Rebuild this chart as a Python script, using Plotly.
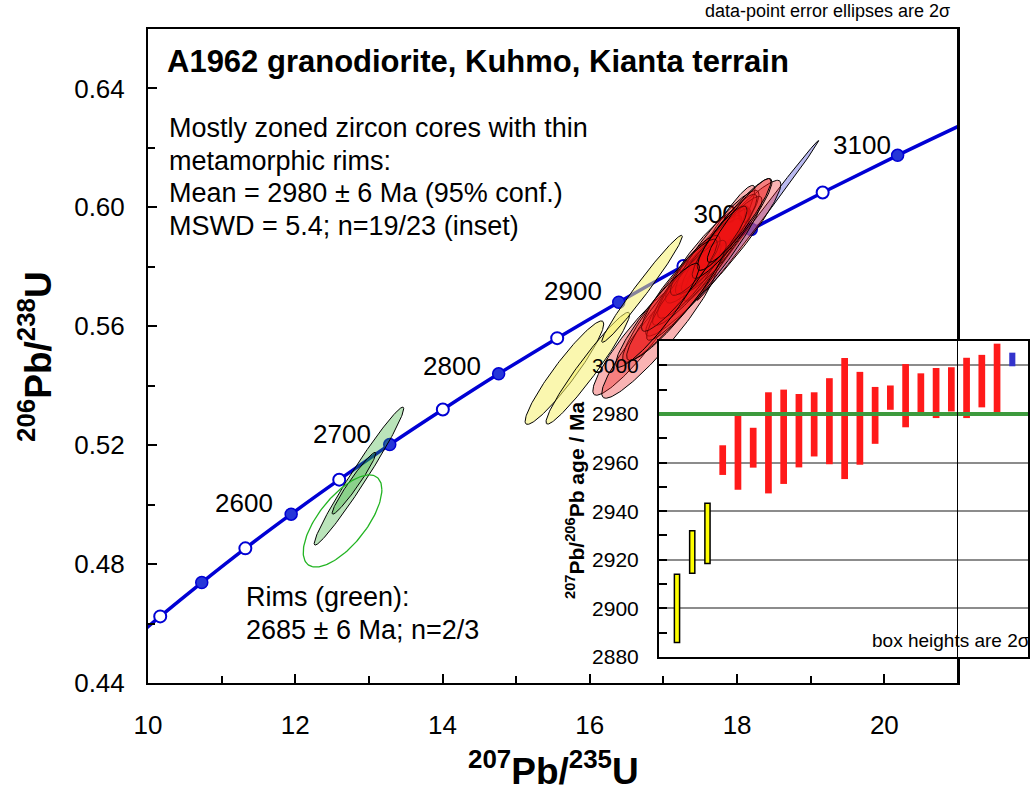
import numpy as np
import plotly.graph_objects as go

# ---------------- data ----------------
# Concordia reference points: age (Ma), 207Pb/235U, 206Pb/238U
conc_age = [2400, 2450, 2500, 2550, 2600, 2650, 2700, 2750, 2800, 2850,
            2900, 2950, 3000, 3050, 3100, 3150]
conc_x = [9.629, 10.166, 10.730, 11.322, 11.944, 12.597, 13.283, 14.004,
          14.762, 15.557, 16.393, 17.271, 18.193, 19.162, 20.180, 21.249]
conc_y = [0.4511, 0.4624, 0.4738, 0.4853, 0.4968, 0.5084, 0.5202, 0.5320,
          0.5440, 0.5560, 0.5681, 0.5803, 0.5926, 0.6050, 0.6175, 0.6301]
label_ages = [2600, 2700, 2800, 2900, 3100]
hidden_label_age = 3000

# Rim analyses (green): centre, 2-sigma half-extents, error correlation
rim_x = [12.865, 12.797, 12.642]
rim_y = [0.5096, 0.5072, 0.4945]
rim_sx = [0.608, 0.297, 0.534]
rim_sy = [0.0232, 0.0104, 0.0155]
rim_rho = [0.978, 0.965, 0.68]
rim_used = [True, True, False]

# Excluded cores (yellow)
yel_x = [15.655, 15.973, 16.709]
yel_y = [0.5444, 0.5459, 0.5726]
yel_sx = [0.534, 0.568, 0.547]
yel_sy = [0.0174, 0.0188, 0.0180]
yel_rho = [0.940, 0.962, 0.980]

# Excluded high analysis (blue)
blu_x = [18.284]
blu_y = [0.5956]
blu_sx = [0.824]
blu_sy = [0.0269]
blu_rho = [0.998]

# Mean-age cores (red)
red_x = [16.649, 16.946, 17.676, 17.757, 17.257, 17.459, 17.568, 17.716, 17.351, 17.730,
         17.554, 17.865, 17.176, 17.432, 17.932, 17.216, 17.797, 16.919, 18.027]
red_y = [0.5553, 0.5587, 0.5829, 0.5879, 0.5721, 0.5788, 0.5839, 0.5855, 0.5755, 0.5882,
         0.5795, 0.5916, 0.5687, 0.5805, 0.5929, 0.5738, 0.5896, 0.5637, 0.5956]
red_sx = [0.608, 0.784, 0.919, 0.486, 0.811, 0.608, 0.541, 0.473, 0.432, 0.568,
          0.784, 0.405, 0.676, 0.338, 0.541, 0.514, 0.338, 0.568, 0.432]
red_sy = [0.0185, 0.0229, 0.0262, 0.0195, 0.0242, 0.0185, 0.0161, 0.0141, 0.0128, 0.0175,
          0.0242, 0.0128, 0.0202, 0.0101, 0.0168, 0.0155, 0.0108, 0.0175, 0.0141]
red_rho = [0.920, 0.930, 0.950, 0.930, 0.940, 0.920, 0.900, 0.900, 0.880, 0.920,
           0.950, 0.900, 0.930, 0.850, 0.930, 0.920, 0.880, 0.930, 0.930]

# Inset: 207Pb/206Pb ages and 2-sigma errors, ranked
inset_age = [2900.0, 2923.2, 2930.9, 2961.0, 2964.6, 2966.1, 2968.1, 2970.6, 2973.1, 2975.7,
             2977.0, 2978.1, 2978.2, 2979.4, 2986.7, 2987.5, 2988.3, 2988.6, 2990.1, 2990.7,
             2993.5, 2994.4, 3002.4]
inset_err = [14.0, 8.7, 12.4, 6.1, 15.8, 8.2, 20.8, 19.4, 15.1, 13.2,
             17.7, 24.9, 19.1, 11.7, 5.0, 13.0, 8.4, 10.3, 9.1, 12.4,
             10.8, 14.5, 2.8]
inset_group = ["yellow"] * 3 + ["red"] * 19 + ["blue"]
mean_age = 2980

# ---------------- helpers ----------------
W, H = 1032, 791
FONT = "Liberation Sans, Arial, Helvetica, sans-serif"
BLUE = "#0000d4"


def ellipse(cx, cy, sx, sy, rho, n=160):
    t = np.linspace(0, 2 * np.pi, n)
    x = cx + sx * np.cos(t)
    y = cy + sy * (rho * np.cos(t) + np.sqrt(1 - rho ** 2) * np.sin(t))
    return x, y


def px(v):
    return v / W


def py(v):
    return 1 - v / H


fig = go.Figure()

# concordia curve
fig.add_trace(go.Scatter(x=conc_x, y=conc_y, mode="lines",
                         line=dict(color=BLUE, width=3.5, shape="spline"),
                         hoverinfo="skip", xaxis="x", yaxis="y"))
fx = [x for a, x in zip(conc_age, conc_x) if a % 100 == 0]
fy = [y for a, y in zip(conc_age, conc_y) if a % 100 == 0]
ox = [x for a, x in zip(conc_age, conc_x) if a % 100 != 0]
oy = [y for a, y in zip(conc_age, conc_y) if a % 100 != 0]
fig.add_trace(go.Scatter(x=fx, y=fy, mode="markers",
                         marker=dict(size=12, color="#2636d8", line=dict(color=BLUE, width=1.5)),
                         hoverinfo="skip"))
fig.add_trace(go.Scatter(x=ox, y=oy, mode="markers",
                         marker=dict(size=12, color="white", line=dict(color=BLUE, width=2)),
                         hoverinfo="skip"))

# the 3000 label sits beneath the ellipses
hi = conc_age.index(hidden_label_age)
fig.add_trace(go.Scatter(x=[conc_x[hi]], y=[conc_y[hi]], mode="text",
                         text=[str(hidden_label_age)], textposition="top left",
                         textfont=dict(family=FONT, size=26, color="black"),
                         hoverinfo="skip"))

# green rims
for cx, cy, sx, sy, r, used in zip(rim_x, rim_y, rim_sx, rim_sy, rim_rho, rim_used):
    ex, ey = ellipse(cx, cy, sx, sy, r)
    if used:
        fig.add_trace(go.Scatter(x=ex, y=ey, mode="lines", fill="toself",
                                 fillcolor="rgba(40,170,40,0.32)",
                                 line=dict(color="black", width=1), hoverinfo="skip"))
    else:
        fig.add_trace(go.Scatter(x=ex, y=ey, mode="lines",
                                 line=dict(color="#22b422", width=1.3), hoverinfo="skip"))

# yellow
for cx, cy, sx, sy, r in zip(yel_x, yel_y, yel_sx, yel_sy, yel_rho):
    ex, ey = ellipse(cx, cy, sx, sy, r)
    fig.add_trace(go.Scatter(x=ex, y=ey, mode="lines", fill="toself",
                             fillcolor="rgba(246,240,110,0.55)",
                             line=dict(color="black", width=1), hoverinfo="skip"))

# blue
for cx, cy, sx, sy, r in zip(blu_x, blu_y, blu_sx, blu_sy, blu_rho):
    ex, ey = ellipse(cx, cy, sx, sy, r)
    fig.add_trace(go.Scatter(x=ex, y=ey, mode="lines", fill="toself",
                             fillcolor="rgba(140,140,230,0.6)",
                             line=dict(color="black", width=1), hoverinfo="skip"))

# red
for cx, cy, sx, sy, r in zip(red_x, red_y, red_sx, red_sy, red_rho):
    ex, ey = ellipse(cx, cy, sx, sy, r)
    fig.add_trace(go.Scatter(x=ex, y=ey, mode="lines", fill="toself",
                             fillcolor="rgba(235,20,20,0.32)",
                             line=dict(color="black", width=1), hoverinfo="skip"))

# ---------------- inset bars ----------------
idx = list(range(1, len(inset_age) + 1))
styles = {
    "yellow": dict(color="#ffff00", line=dict(color="black", width=1.5), width=0.34),
    "red": dict(color="#ff1a1a", line=dict(color="#ff1a1a", width=0), width=0.44),
    "blue": dict(color="#3333cc", line=dict(color="#3333cc", width=0), width=0.40),
}
for g, st in styles.items():
    xs = [i for i, gg in zip(idx, inset_group) if gg == g]
    base = [a - e for a, e, gg in zip(inset_age, inset_err, inset_group) if gg == g]
    hts = [2 * e for e, gg in zip(inset_err, inset_group) if gg == g]
    fig.add_trace(go.Bar(x=xs, y=hts, base=base, width=st["width"],
                         marker=dict(color=st["color"], line=st["line"]),
                         xaxis="x2", yaxis="y2", hoverinfo="skip"))

# ---------------- layout ----------------
axis_common = dict(showline=True, mirror=True, linecolor="black", linewidth=2,
                   showgrid=False, zeroline=False, automargin=False)
fig.update_layout(
    template="none",
    width=W, height=H, margin=dict(l=0, r=0, t=0, b=0, pad=0, autoexpand=False),
    paper_bgcolor="white", plot_bgcolor="white", showlegend=False,
    barmode="overlay",
    font=dict(family=FONT, size=26, color="black"),
    xaxis=dict(domain=[px(148), px(958)], range=[10, 21], tick0=10, dtick=2,
               ticks="inside", ticklen=9, tickwidth=1.5, tickcolor="black",
               minor=dict(ticks="inside", ticklen=7, dtick=1, tickwidth=1.5, tickcolor="black"),
               tickfont=dict(size=26), ticklabelstandoff=18, anchor="y", **axis_common),
    yaxis=dict(domain=[py(683), py(29)], range=[0.44, 0.66], tick0=0.44, dtick=0.04,
               tickformat=".2f", ticks="inside", ticklen=9, tickwidth=1.5, tickcolor="black",
               minor=dict(ticks="inside", ticklen=7, dtick=0.02, tickwidth=1.5, tickcolor="black"),
               tickfont=dict(size=26), ticklabelstandoff=16, anchor="x", **axis_common),
    xaxis2=dict(domain=[px(659), px(1028)], range=[-0.18, 24.03], anchor="y2",
                showticklabels=False, ticks="", **axis_common),
    yaxis2=dict(domain=[py(657), py(341)], range=[2880, 3010], anchor="x2",
                tickvals=list(range(2880, 3001, 20)), ticks="inside", ticklen=8,
                tickwidth=1.5, tickcolor="black",
                minor=dict(ticks="inside", ticklen=8, dtick=10, tick0=2880,
                           tickwidth=1.5, tickcolor="black"),
                tickfont=dict(size=21), ticklabelstandoff=14,
                showline=True, mirror=True, linecolor="black", linewidth=2,
                showgrid=True, gridcolor="#8c8c8c", gridwidth=2, zeroline=False,
                automargin=False),
)

shapes = [
    # mean age line in inset
    dict(type="line", xref="x2 domain", yref="y2", x0=0, x1=1, y0=mean_age, y1=mean_age,
         line=dict(color="#3d9a3d", width=4), layer="above"),
    # main frame right edge, drawn across the inset
    dict(type="line", xref="x", yref="y", x0=21, x1=21, y0=0.44, y1=0.66,
         line=dict(color="black", width=2), layer="above"),
]
fig.update_layout(shapes=shapes)

ann = []


def text(x, y, s, size=26, bold=False, xanchor="left", yanchor="middle", angle=0):
    if bold:
        s = "<b>" + s + "</b>"
    ann.append(dict(xref="paper", yref="paper", x=px(x), y=py(y), text=s, showarrow=False,
                    xanchor=xanchor, yanchor=yanchor, textangle=angle,
                    font=dict(family=FONT, size=size, color="black")))


text(165, 62, "A1962 granodiorite, Kuhmo, Kianta terrain", size=31, bold=True)
text(167, 128, "Mostly zoned zircon cores with thin", size=27)
text(167, 161, "metamorphic rims:", size=27)
text(167, 193, "Mean = 2980 ± 6 Ma (95% conf.)", size=27)
text(167, 226, "MSWD = 5.4; n=19/23 (inset)", size=27)
text(244, 597, "Rims (green):", size=27)
text(244, 630, "2685 ± 6 Ma; n=2/3", size=27)
text(703, 11, "data-point error ellipses are 2σ", size=18)
text(1032, 640, "box heights are 2σ", size=19, xanchor="right")
text(553, 768, "<sup>207</sup>Pb/<sup>235</sup>U", size=37, bold=True, xanchor="center")
text(35, 357, "<sup>206</sup>Pb/<sup>238</sup>U", size=37, bold=True, xanchor="center", angle=-90)
text(575, 500, "<sup>207</sup>Pb/<sup>206</sup>Pb age / Ma", size=21, bold=True,
     xanchor="center", angle=-90)

# concordia age labels (offsets in pixels from the concordia point)
shifts = {2600: (-16, 11), 2700: (-17, 11), 2800: (-16, 8), 2900: (-15, 11), 3100: (-5, 10)}
for a in label_ages:
    i = conc_age.index(a)
    dx, dy = shifts[a]
    ann.append(dict(xref="x", yref="y", x=conc_x[i], y=conc_y[i], text=str(a), showarrow=False,
                    xanchor="right", yanchor="middle", xshift=dx, yshift=dy,
                    font=dict(family=FONT, size=26, color="black")))

fig.update_layout(annotations=ann)
fig.write_html("out.html")
